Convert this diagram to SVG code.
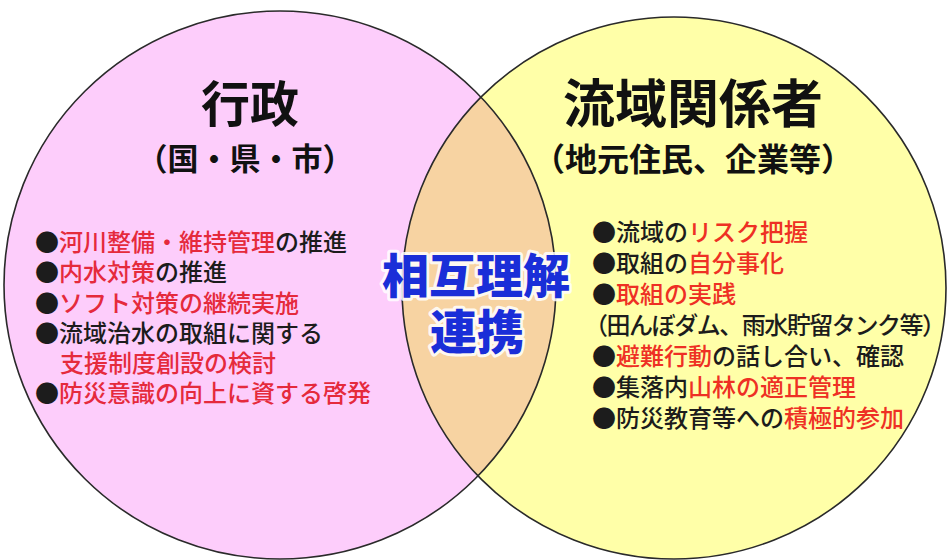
<svg xmlns="http://www.w3.org/2000/svg" width="948" height="560" viewBox="0 0 948 560">
  <defs>
    <clipPath id="clipLeft">
      <ellipse cx="280" cy="285" rx="276" ry="274"/>
    </clipPath>
    <style>
      .txt { font-family: "Noto Sans CJK JP", "Noto Sans CJK SC", sans-serif; }
      .title { font-weight: 700; fill: #111; text-anchor: middle; }
      .sub { font-weight: 700; fill: #111; text-anchor: middle; }
      .item { font-size: 24px; font-weight: 500; fill: #1c1c1c; }
      .red { fill: #e52a3c; }
      .red2 { fill: #ee3024; }
      .center { font-size: 47px; font-weight: 900; fill: #1a2ed8; text-anchor: middle;
                stroke: #ffffff; stroke-width: 6; stroke-linejoin: round; stroke-opacity: 0.85; paint-order: stroke; }
      .outline { fill: none; stroke: #2a2a2a; stroke-width: 1.6; }
    </style>
  </defs>
  <rect x="0" y="0" width="948" height="560" fill="#ffffff"/>

  <!-- fills -->
  <ellipse cx="280" cy="285" rx="276" ry="274" fill="#fdcdfb"/>
  <ellipse cx="674" cy="288" rx="272" ry="271" fill="#ffffa8"/>
  <ellipse cx="674" cy="288" rx="272" ry="271" fill="#f7d3a2" clip-path="url(#clipLeft)"/>
  <!-- outlines -->
  <ellipse class="outline" cx="280" cy="285" rx="276" ry="274"/>
  <ellipse class="outline" cx="674" cy="288" rx="272" ry="271"/>

  <g id="gyosei" class="txt">
    <text class="title" x="250" y="122" font-size="49">行政</text>
    <text class="sub" x="245" y="170" font-size="31">（国・県・市）</text>
    <text class="item" x="35" y="251">●<tspan class="red">河川整備・維持管理</tspan>の推進</text>
    <text class="item" x="35" y="281">●<tspan class="red">内水対策</tspan>の推進</text>
    <text class="item" x="35" y="312">●<tspan class="red">ソフト対策の継続実施</tspan></text>
    <text class="item" x="35" y="342">●流域治水の取組に関する</text>
    <text class="item red" x="60" y="372">支援制度創設の検討</text>
    <text class="item" x="35" y="402">●<tspan class="red">防災意識の向上に資する啓発</tspan></text>
  </g>

  <g id="ryuiki" class="txt">
    <text class="title" x="693" y="123" font-size="52">流域関係者</text>
    <text class="sub" x="693" y="171" font-size="32">（地元住民、企業等）</text>
    <text class="item" x="592" y="241">●流域の<tspan class="red2">リスク把握</tspan></text>
    <text class="item" x="592" y="272">●取組の<tspan class="red2">自分事化</tspan></text>
    <text class="item" x="592" y="303">●<tspan class="red2">取組の実践</tspan></text>
    <text class="item" x="584" y="334" textLength="362" lengthAdjust="spacing">（田んぼダム、雨水貯留タンク等）</text>
    <text class="item" x="592" y="365">●<tspan class="red2">避難行動</tspan>の話し合い、確認</text>
    <text class="item" x="592" y="396">●集落内<tspan class="red2">山林の適正管理</tspan></text>
    <text class="item" x="592" y="427">●防災教育等への<tspan class="red2">積極的参加</tspan></text>
  </g>

  <g id="renkei" class="txt">
    <text class="center" x="476" y="293">相互理解</text>
    <text class="center" x="477" y="349">連携</text>
  </g>
</svg>
